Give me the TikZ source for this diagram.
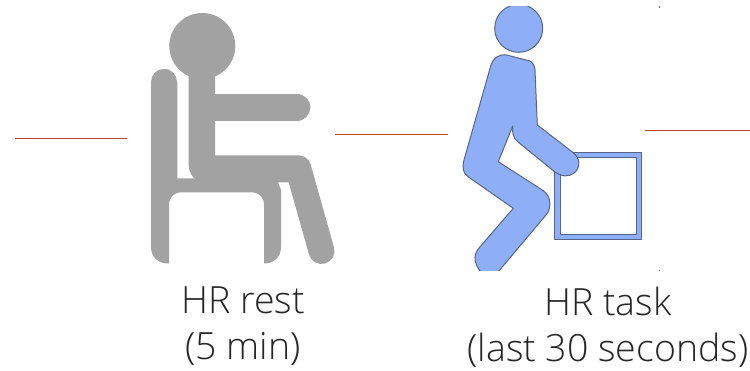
\documentclass[tikz,border=0pt]{standalone}
\usepackage{fontspec}
\setmainfont{Open Sans Light}
\definecolor{figgray}{HTML}{A2A2A2}
\definecolor{figblue}{HTML}{8FAEF8}
\definecolor{figedge}{HTML}{566688}
\definecolor{tickred}{HTML}{C0472F}
\definecolor{labelgray}{HTML}{262626}
\tikzset{
  tick/.style={draw=tickred,line width=1pt},
  caption/.style={text=labelgray,font=\fontsize{37.5}{40}\selectfont,inner sep=0pt,anchor=base},
  seated/.style={fill=figgray,draw=none},
  limb/.style={draw=figgray,line cap=round},
  lifter/.style={fill=figblue,draw=figedge,line width=1pt,line join=round}
}
\begin{document}
\begin{tikzpicture}[x=1pt,y=-1pt]
\useasboundingbox (0,0) rectangle (750,370);
% red lines
\coordinate (a1) at (15,138); \coordinate (a2) at (127,138);
\coordinate (b1) at (335,134.5); \coordinate (b2) at (448,134.5);
\coordinate (c1) at (645,130.5); \coordinate (c2) at (750,130.5);
\draw[tick] (a1) -- (a2);
\draw[tick] (b1) -- (b2);
\draw[tick] (c1) -- (c2);
% seated figure: head, torso, arm
\fill[seated] (202.3,46) circle (33);
\fill[seated] (188.7,70) -- (215,70) -- (215,182) -- (200,182) .. controls (192,178) and (188.7,172) .. (188.7,165) -- cycle;
\draw[limb,line width=26.7pt] (205,107.3) -- (297,107.3);
% thigh and shin
\fill[seated] (205,155.3) -- (298,155.3)
  .. controls (304,155.3) and (308.5,158.5) .. (311,165) -- (300,178) -- (288,182.3) -- (205,182.3) -- cycle;
\draw[limb,line width=26pt] (299,171) -- (321.5,251);
% chair
\fill[seated] (151,82) -- (177.3,82) -- (177.3,178.3) -- (278,178.3) -- (278,182.3) -- (281,190) -- (281,247)
  .. controls (281,257) and (274,263.5) .. (264,263.5) -- (264,205)
  .. controls (264,197) and (259,192.3) .. (251,192.3) -- (182,192.3)
  .. controls (174,192.3) and (169,197) .. (169,205) -- (169,263.5)
  .. controls (158,263.5) and (151,257) .. (151,247) -- cycle;
\draw[limb,line width=26.3pt] (164.15,82) -- (164.15,100);
% lifting figure
\begin{scope}
\clip (450,6) rectangle (660,270);
\draw[lifter] (554.3,152.3) rectangle (641.7,239.3);
\fill[white,draw=figedge,line width=1pt] (560,157.7) rectangle (636.7,234);
\draw[lifter] (518.7,28.3) circle (24);
\draw[lifter] (506.7,55)
  -- (530,61) .. controls (532,62) and (535,66) .. (535,70)
  -- (537.3,125) -- (573.3,152.7)
  .. controls (580,158) and (581,168) .. (574,173)
  .. controls (569,177) and (562,177) .. (555,172)
  -- (518,142) .. controls (513,138) and (512,132) .. (512.7,126)
  -- (498.3,161.7) -- (543.3,190.7)
  .. controls (551,196) and (552,208) .. (546,215)
  -- (498,272) -- (481,272)
  .. controls (475,265) and (472,256) .. (479,248)
  -- (513.3,208.3) -- (468,176.7)
  .. controls (463,173) and (462,168) .. (464,160)
  -- (491,65) .. controls (493,58) and (499,54) .. (506.7,55) -- cycle;
\end{scope}
\fill[figedge] (658.5,6) rectangle (660,7.5);
\fill[figedge] (658.5,269.5) rectangle (660,271);
% captions
\node[caption] (rest) at (243,313) {HR rest};
\node[caption] (min) at (243,359) {(5 min)};
\node[caption] (task) at (608,315.5) {HR task};
\node[caption] (last) at (608,361.5) {(last 30 seconds)};
\end{tikzpicture}
\end{document}
